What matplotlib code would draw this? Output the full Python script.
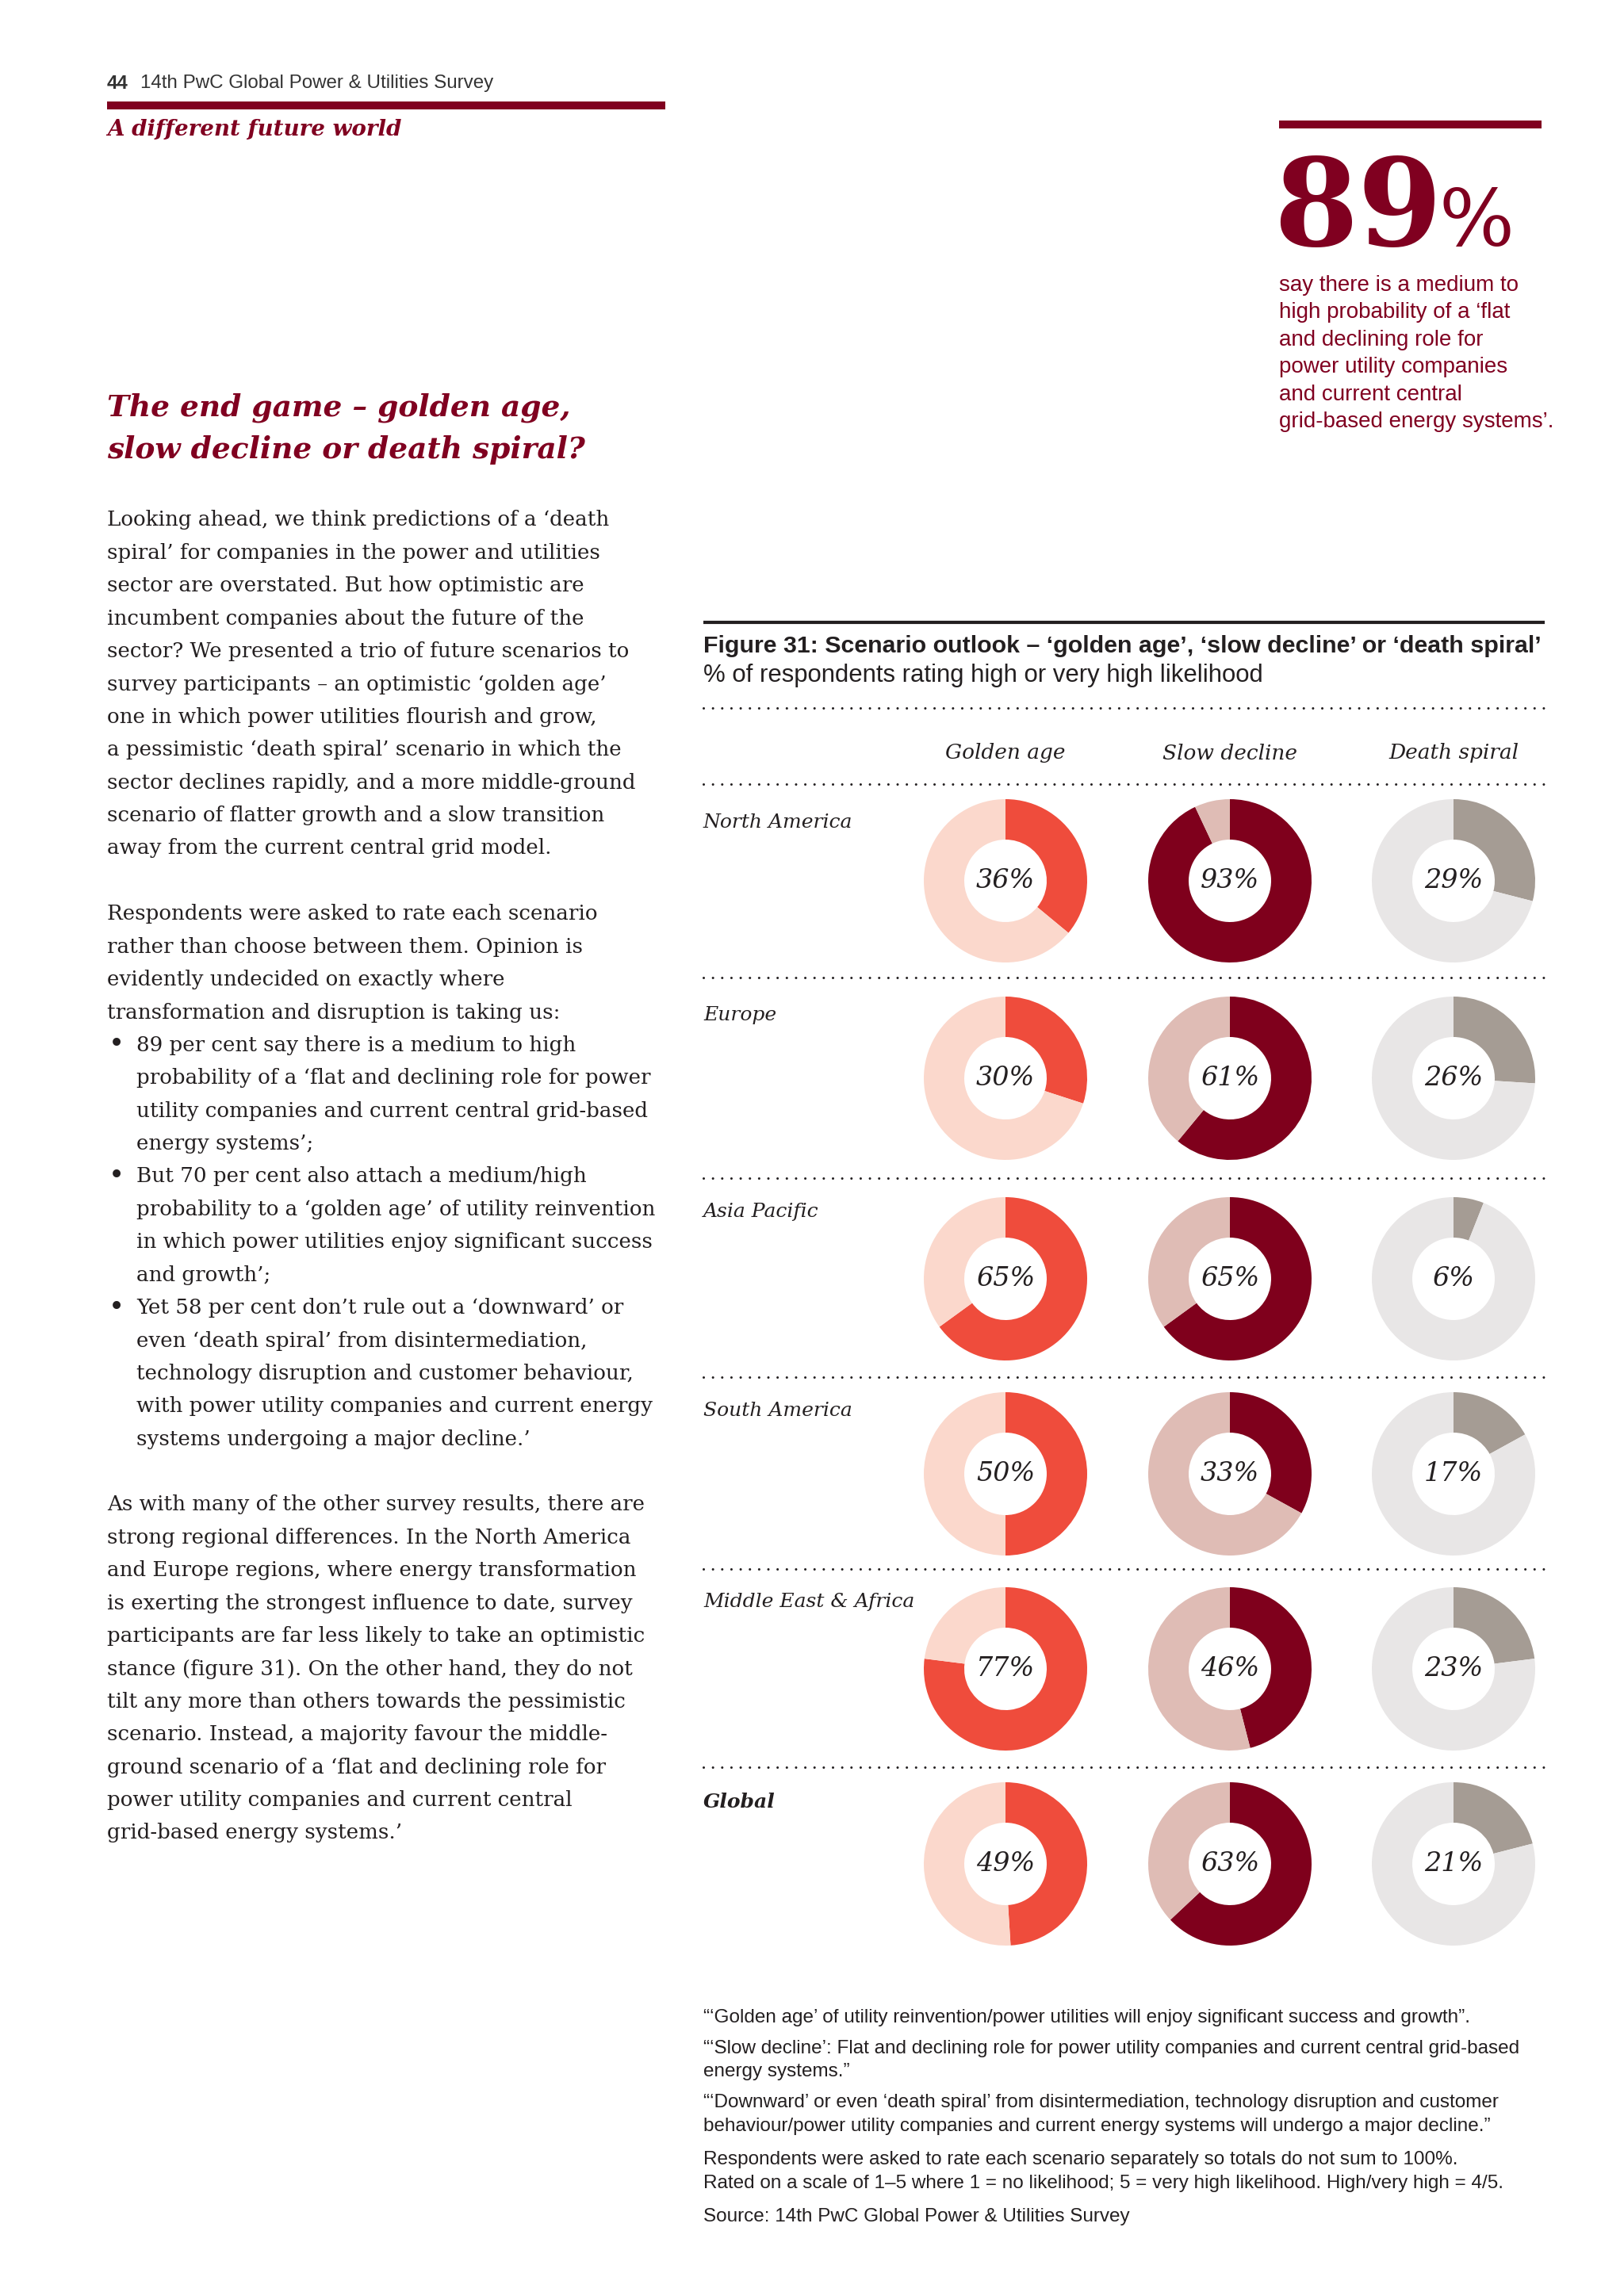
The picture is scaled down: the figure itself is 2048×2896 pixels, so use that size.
import matplotlib
matplotlib.use('Agg')
import matplotlib.pyplot as plt
from matplotlib import font_manager

W, H = 2048, 2896

# Figure 31 data: % rating high or very high likelihood
regions = ['North America', 'Europe', 'Asia Pacific', 'South America',
           'Middle East & Africa', 'Global']
scenarios = ['Golden age', 'Slow decline', 'Death spiral']
golden_age = [36, 30, 65, 50, 77, 49]
slow_decline = [93, 61, 65, 33, 46, 63]
death_spiral = [29, 26, 6, 17, 23, 21]

value_colours = ['#ef4c3c', '#7f001c', '#a59c94']
rest_colours = ['#fbd8cc', '#dfbcb5', '#e8e6e6']

big_stat = '89'
stat_text = ['say there is a medium to',
             'high probability of a ‘flat',
             'and declining role for',
             'power utility companies',
             'and current central',
             'grid-based energy systems’.']

para1 = ["Looking ahead, we think predictions of a ‘death",
         "spiral’ for companies in the power and utilities",
         "sector are overstated. But how optimistic are",
         "incumbent companies about the future of the",
         "sector? We presented a trio of future scenarios to",
         "survey participants – an optimistic ‘golden age’",
         "one in which power utilities flourish and grow,",
         "a pessimistic ‘death spiral’ scenario in which the",
         "sector declines rapidly, and a more middle-ground",
         "scenario of flatter growth and a slow transition",
         "away from the current central grid model."]
para2 = ["Respondents were asked to rate each scenario",
         "rather than choose between them. Opinion is",
         "evidently undecided on exactly where",
         "transformation and disruption is taking us:",
         "• 89 per cent say there is a medium to high",
         "  probability of a ‘flat and declining role for power",
         "  utility companies and current central grid-based",
         "  energy systems’;",
         "• But 70 per cent also attach a medium/high",
         "  probability to a ‘golden age’ of utility reinvention",
         "  in which power utilities enjoy significant success",
         "  and growth’;",
         "• Yet 58 per cent don’t rule out a ‘downward’ or",
         "  even ‘death spiral’ from disintermediation,",
         "  technology disruption and customer behaviour,",
         "  with power utility companies and current energy",
         "  systems undergoing a major decline.’"]
para3 = ["As with many of the other survey results, there are",
         "strong regional differences. In the North America",
         "and Europe regions, where energy transformation",
         "is exerting the strongest influence to date, survey",
         "participants are far less likely to take an optimistic",
         "stance (figure 31). On the other hand, they do not",
         "tilt any more than others towards the pessimistic",
         "scenario. Instead, a majority favour the middle-",
         "ground scenario of a ‘flat and declining role for",
         "power utility companies and current central",
         "grid-based energy systems.’"]

notes = ["“‘Golden age’ of utility reinvention/power utilities will enjoy significant success and growth”.",
         "“‘Slow decline’: Flat and declining role for power utility companies and current central grid-based",
         "energy systems.”",
         "“‘Downward’ or even ‘death spiral’ from disintermediation, technology disruption and customer",
         "behaviour/power utility companies and current energy systems will undergo a major decline.”",
         "Respondents were asked to rate each scenario separately so totals do not sum to 100%.",
         "Rated on a scale of 1–5 where 1 = no likelihood; 5 = very high likelihood. High/very high = 4/5.",
         "Source: 14th PwC Global Power & Utilities Survey"]
notes_y = [2545, 2584, 2613, 2652, 2682, 2724, 2754, 2796]

RED = '#800020'
INK = '#231f20'
SERIF = 'DejaVu Serif'
SANS = 'Liberation Sans'
names = {f.name for f in font_manager.fontManager.ttflist}
if 'Liberation Sans Narrow' in names:
    NARROW, nscale = 'Liberation Sans Narrow', 1.0
else:
    NARROW, nscale = 'Liberation Sans', 0.82
BODY = 18.8


def Y(y):
    return H - y


fig = plt.figure(figsize=(W / 100, H / 100), dpi=100)
ax = fig.add_axes([0, 0, 1, 1])

# page header
ax.text(135, Y(105), '44', fontsize=17.4, family=SANS, weight='bold', color='#333333', va='center')
ax.text(177, Y(105), '14th PwC Global Power & Utilities Survey', fontsize=17.4, family=SANS,
        color='#333333', va='center')
ax.plot([135, 839], [Y(133), Y(133)], color=RED, lw=7.2, solid_capstyle='butt')
ax.text(135, Y(163), 'A different future world', fontsize=20, family=SERIF, style='italic',
        weight='bold', color=RED, va='center')

# stat callout
ax.plot([1613, 1944], [Y(157), Y(157)], color=RED, lw=7.2, solid_capstyle='butt')
ax.text(1606, Y(310), big_stat, fontsize=110, family=SERIF, weight='bold',
        color=RED, va='baseline')
ax.text(1814, Y(310), '%', fontsize=72, family=SERIF,
        color=RED, va='baseline')
for i, line in enumerate(stat_text):
    ax.text(1613, Y(360 + i * 34.4), line, fontsize=20, family=SANS, color=RED, va='center')

# section heading
ax.text(135, Y(514), 'The end game – golden age,', fontsize=27, family=SERIF, style='italic',
        weight='bold', color=RED, va='center')
ax.text(135, Y(567), 'slow decline or death spiral?', fontsize=27, family=SERIF, style='italic',
        weight='bold', color=RED, va='center')

# body copy
body = para1 + [''] + para2 + [''] + para3
for i, line in enumerate(body):
    y = Y(656 + i * 41.4)
    if line.startswith('• '):
        ax.text(137, y, '•', fontsize=BODY * 1.3, family=SERIF, color=INK, va='center')
        ax.text(172, y, line[2:], fontsize=BODY, family=SERIF, color=INK, va='center')
    elif line.startswith('  '):
        ax.text(172, y, line[2:], fontsize=BODY, family=SERIF, color=INK, va='center')
    else:
        ax.text(135, y, line, fontsize=BODY, family=SERIF, color=INK, va='center')

# figure block
x0, x1 = 887, 1948
ax.plot([x0, x1], [Y(785), Y(785)], color=INK, lw=3, solid_capstyle='butt')
ax.text(x0, Y(815), 'Figure 31: Scenario outlook – ‘golden age’, ‘slow decline’ or ‘death spiral’',
        fontsize=26.7 * nscale, family=NARROW, weight='bold', color=INK, va='center')
ax.text(x0, Y(852), '% of respondents rating high or very high likelihood',
        fontsize=27.3 * nscale, family=NARROW, color=INK, va='center')

for y in [893, 989, 1233, 1486, 1737, 1979, 2229]:
    ax.plot([x0, x1], [Y(y), Y(y)], color=INK, lw=2.2, linestyle=(0, (0.01, 3.8)),
            dash_capstyle='round')

col_x = [1268, 1551, 1833]
row_y = [1111, 1360, 1613, 1859, 2105, 2351]
label_y = [1037, 1281, 1529, 1780, 2020, 2273]

for cx, name in zip(col_x, scenarios):
    ax.text(cx, Y(950), name, fontsize=19, family=SERIF, style='italic', color=INK,
            ha='center', va='center')

series = [golden_age, slow_decline, death_spiral]
for r, region in enumerate(regions):
    ax.text(x0, Y(label_y[r]), region, fontsize=18, family=SERIF, style='italic',
            weight='bold' if region == 'Global' else 'normal', color=INK, va='center')
    for c, vals in enumerate(series):
        v = vals[r]
        ax.pie([v, 100 - v], colors=[value_colours[c], rest_colours[c]], startangle=90,
               counterclock=False, center=(col_x[c], Y(row_y[r])), radius=103,
               wedgeprops=dict(width=51, linewidth=0))
        ax.text(col_x[c], Y(row_y[r]), f'{v}%', fontsize=24, family=SERIF, style='italic',
                color=INK, ha='center', va='center')

for line, y in zip(notes, notes_y):
    ax.text(x0, Y(y), line, fontsize=21.3 * nscale, family=NARROW, color=INK, va='center')

ax.set_xlim(0, W)
ax.set_ylim(0, H)
ax.set_aspect('auto')
ax.axis('off')

fig.savefig('out.png', dpi=100, facecolor='white')
